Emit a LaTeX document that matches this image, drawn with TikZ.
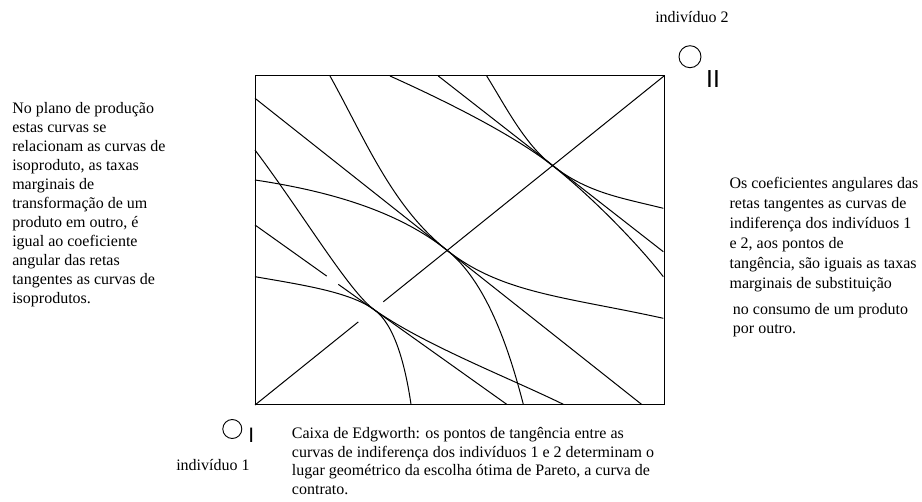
\documentclass[tikz,border=0pt]{standalone}
\usepackage{fontspec}
\setmainfont{Liberation Serif}
\newfontfamily\arialfont{Liberation Sans}
\usetikzlibrary{calc}
\begin{document}
\begin{tikzpicture}[x=0.75pt,y=-0.75pt,
  txt/.style={font=\fontsize{12}{14}\selectfont, inner sep=0pt, anchor=base west},
  ln/.style={line width=0.75pt, black},
  origin/.style={circle, draw, line width=0.7pt, inner sep=0pt},
  subidx/.style={font=\arialfont\fontsize{#1}{#1}\selectfont, inner sep=0pt, anchor=base west}]
\useasboundingbox (0,0) rectangle (922,502);

% box
\coordinate (BL) at (255,405);
\coordinate (TR) at (664,76);
\draw[ln] (BL) rectangle (TR);

% tangency points
\coordinate (T1) at (551.7,165);
\coordinate (T2) at (446.7,250);
\coordinate (T3) at (374,309.5);

% contract curve (diagonal) with a gap
\draw[ln] (BL) -- ($(BL)!0.2526!(TR)$);
\draw[ln] ($(BL)!0.3137!(TR)$) -- (TR);

% middle tangency
\coordinate (B0) at (255,98.3);
\coordinate (B1) at (641.5,404.3);
\draw[ln] (B0) -- (B1);
\draw[ln] (330,76) .. controls (365,139) and (391.9,206.5) .. (T2)
  .. controls (501.5,293.5) and (565.7,296.8) .. (663.3,318.3);
\draw[ln] (255,180) .. controls (334.1,191.8) and (399.7,212.7) .. (T2)
  .. controls (485.9,281.1) and (508.3,346.2) .. (523.3,404.3);

% upper tangency
\coordinate (U0) at (438.3,76);
\coordinate (U1) at (663.3,251.7);
\draw[ln] (U0) -- (U1);
\draw[ln] (486.7,76) .. controls (505.3,105.8) and (524.1,143.4) .. (T1)
  .. controls (587.2,192.7) and (619.7,197.5) .. (663.3,208.3);
\draw[ln] (390,76) .. controls (444.7,100.6) and (512.3,134.2) .. (T1)
  .. controls (587.2,192.7) and (635.8,241.2) .. (663.3,276.7);

% lower tangency
\coordinate (L0) at (255,225);
\coordinate (L1) at (506.7,404.3);
\draw[ln] (L0) -- ($(L0)!0.2849!(L1)$);
\draw[ln] ($(L0)!0.3310!(L1)$) -- (L1);
\draw[ln] (255,150) .. controls (303,214) and (349.5,292.1) .. (T3)
  .. controls (422.9,344.3) and (509.3,377.9) .. (563.3,404.3);
\draw[ln] (255,276.7) .. controls (304.3,285.2) and (349.6,292.1) .. (T3)
  .. controls (394.4,324) and (405.2,364.7) .. (411,404.3);

% origins
\node[origin, minimum size=14.25pt] (oI) at (232.3,429) {};
\node[subidx=15.7] (oIsub) at (248,443) {I};
\node[origin, minimum size=16.5pt] (oII) at (690,56.7) {};
\node[subidx=18.5] (oIIsub) at (705.9,87.7) {II};

\node[txt] (ind1) at (176,470.7) {indivíduo 1};
\node[txt] (ind2) at (655,23) {indivíduo 2};

% left text
\foreach \t [count=\i] in {{No plano de produção},{estas curvas se},{relacionam as curvas de},{isoproduto, as taxas},{marginais de},{transformação de um},{produto em outro, é},{igual ao coeficiente},{angular das retas},{tangentes as curvas de},{isoprodutos.}}
  \node[txt] (l\i) at (12,{113.5+19*(\i-1)}) {\t};

% right text
\foreach \t [count=\i] in {{Os coeficientes angulares das},{retas tangentes as curvas de},{indiferença dos indivíduos 1},{e 2, aos pontos de},{tangência, são iguais as taxas},{marginais de substituição}}
  \node[txt] (r\i) at (729.3,{188.6+20*(\i-1)}) {\t};
\node[txt] (r7) at (732.7,315) {no consumo de um produto};
\node[txt] (r8) at (732.7,333.5) {por outro.};

% bottom caption
\foreach \t [count=\i] in {{Caixa de Edgworth: os pontos de tangência entre as},{curvas de indiferença dos indivíduos 1 e 2 determinam o},{lugar geométrico da escolha ótima de Pareto, a curva de},{contrato.}}
  \node[txt] (b\i) at (291.7,{438.5+18.6*(\i-1)}) {\t};
\end{tikzpicture}
\end{document}
